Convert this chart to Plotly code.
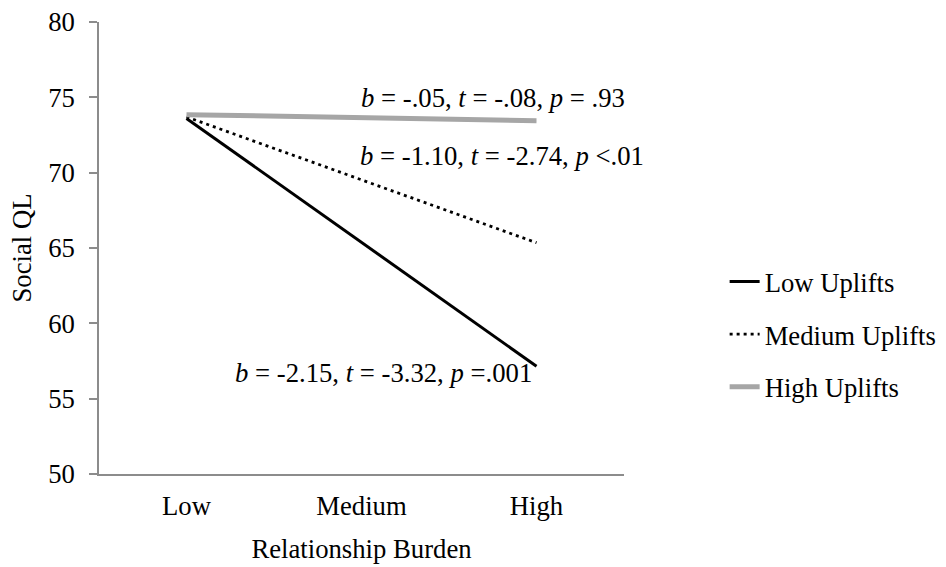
import plotly.graph_objects as go

categories = ["Low", "Medium", "High"]
x_points = ["Low", "High"]
series_names = ["Low Uplifts", "Medium Uplifts", "High Uplifts"]
low_uplifts = [73.6, 57.15]
medium_uplifts = [73.7, 65.35]
high_uplifts = [73.85, 73.45]
y_ticks = [50, 55, 60, 65, 70, 75, 80]
annotation_texts = [
    "<i>b</i> = -.05, <i>t</i> = -.08, <i>p</i> = .93",
    "<i>b</i> = -1.10, <i>t</i> = -2.74, <i>p</i> <.01",
    "<i>b</i> = -2.15, <i>t</i> = -3.32, <i>p</i> =.001",
]

FONT = "Liberation Serif, Times New Roman, serif"
FS = 26.7
AXIS_COLOR = "#8c8c8c"

fig = go.Figure()
fig.add_trace(go.Scatter(x=x_points, y=low_uplifts, name=series_names[0], mode="lines",
                         line=dict(color="black", width=3), legendgroup="a"))
fig.add_trace(go.Scatter(x=x_points, y=medium_uplifts, name=series_names[1], mode="lines",
                         line=dict(color="black", width=2.8, dash="3px,4px"), legendgroup="b"))
fig.add_trace(go.Scatter(x=x_points, y=high_uplifts, name=series_names[2], mode="lines",
                         line=dict(color="#a6a6a6", width=5), legendgroup="c"))

ann_pos = [(0.4952, 0.832), (0.4933, 0.7035), (0.2552, 0.2235)]
for txt, (ax, ay) in zip(annotation_texts, ann_pos):
    fig.add_annotation(text=txt, x=ax, y=ay, xref="paper", yref="paper",
                       xanchor="left", yanchor="middle", showarrow=False,
                       font=dict(family=FONT, size=FS, color="black"))

fig.update_layout(
    width=946, height=567,
    margin=dict(l=99, r=322, t=22, b=93, autoexpand=False),
    paper_bgcolor="white", plot_bgcolor="white",
    font=dict(family=FONT, size=FS, color="black"),
    showlegend=True,
    legend=dict(xref="container", yref="container", x=0.766, y=0.41,
                xanchor="left", yanchor="middle",
                font=dict(family=FONT, size=FS, color="black"),
                tracegroupgap=15, bgcolor="rgba(0,0,0,0)"),
    xaxis=dict(type="category", categoryorder="array", categoryarray=categories,
               range=[-0.5, 2.5], showgrid=False, zeroline=False, automargin=False,
               showline=True, linecolor=AXIS_COLOR, linewidth=1.5,
               ticks="", ticklabelstandoff=7, tickfont=dict(family=FONT, size=FS),
               title=dict(text="Relationship Burden", font=dict(family=FONT, size=FS), standoff=20)),
    yaxis=dict(range=[50, 80], tickvals=y_ticks, showgrid=False, zeroline=False, automargin=False,
               showline=True, linecolor=AXIS_COLOR, linewidth=1.5,
               ticks="outside", ticklen=8, tickcolor=AXIS_COLOR, tickwidth=1.5,
               ticklabelstandoff=9,
               tickfont=dict(family=FONT, size=FS),
               title=dict(text="Social QL", font=dict(family=FONT, size=FS), standoff=9)),
)

fig.write_html("out.html", config={"displayModeBar": False},
               post_script="document.body.style.margin='0';")
